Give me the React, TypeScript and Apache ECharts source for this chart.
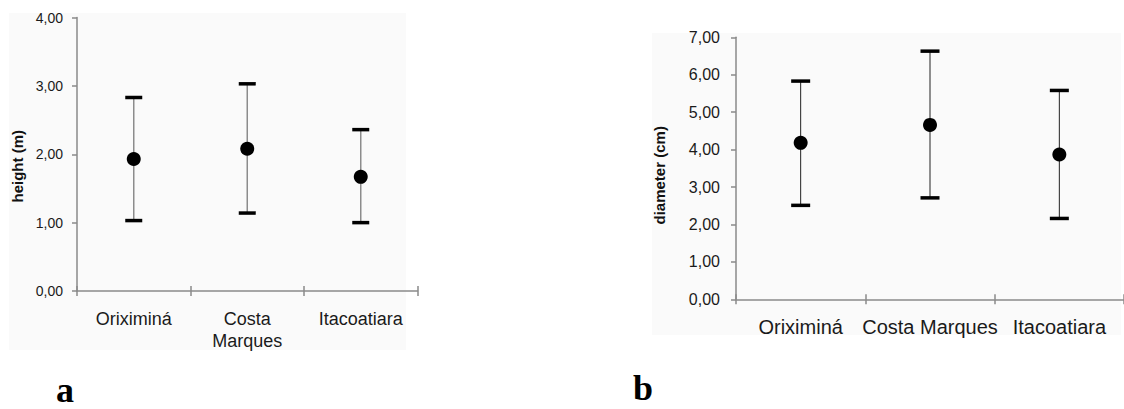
import React, { useEffect, useRef } from "react";
import * as echarts from "echarts";

const categories = ["Oriximiná", "Costa Marques", "Itacoatiara"];

// Panel a: height (m)
const heightMean = [1.93, 2.08, 1.67];
const heightLow = [1.03, 1.14, 1.0];
const heightHigh = [2.83, 3.03, 2.36];
const heightTicks = { min: 0, max: 4, interval: 1 };

// Panel b: diameter (cm)
const diamMean = [4.18, 4.66, 3.87];
const diamLow = [2.51, 2.71, 2.16];
const diamHigh = [5.83, 6.63, 5.58];
const diamTicks = { min: 0, max: 7, interval: 1 };

const fmt = (v: number) => v.toFixed(2).replace(".", ",");

function errorSeries(
  xAxisIndex: number,
  yAxisIndex: number,
  low: number[],
  high: number[],
  stemColor: string,
  stemWidth: number,
  capWidth: number
) {
  return {
    type: "custom",
    xAxisIndex,
    yAxisIndex,
    z: 2,
    data: low.map((l, i) => [i, l, high[i]]),
    renderItem: (params: any, api: any) => {
      const x = api.value(0);
      const pLow = api.coord([x, api.value(1)]);
      const pHigh = api.coord([x, api.value(2)]);
      const hw = capWidth / 2;
      return {
        type: "group",
        children: [
          {
            type: "line",
            shape: { x1: pLow[0], y1: pLow[1], x2: pHigh[0], y2: pHigh[1] },
            style: { stroke: stemColor, lineWidth: stemWidth },
          },
          {
            type: "line",
            shape: { x1: pLow[0] - hw, y1: pLow[1], x2: pLow[0] + hw, y2: pLow[1] },
            style: { stroke: "#000", lineWidth: 3.5 },
          },
          {
            type: "line",
            shape: { x1: pHigh[0] - hw, y1: pHigh[1], x2: pHigh[0] + hw, y2: pHigh[1] },
            style: { stroke: "#000", lineWidth: 3.5 },
          },
        ],
      };
    },
  };
}

const axisGray = "#8a8a8a";
const sans = "Liberation Sans, Arial, sans-serif";

export default function App() {
  const ref = useRef<HTMLDivElement>(null);
  useEffect(() => {
    if (!ref.current) return;
    const chart = echarts.init(ref.current, undefined, { renderer: "svg" });
    const catAxis = (gridIndex: number, fontSize: number, twoLine: boolean) => ({
      type: "category",
      gridIndex,
      data: categories,
      boundaryGap: true,
      axisLine: { lineStyle: { color: axisGray, width: 1.5 } },
      axisTick: { show: true, length: 5, lineStyle: { color: axisGray, width: 1.5 } },
      axisLabel: {
        interval: 0,
        color: "#1a1a1a",
        fontFamily: sans,
        fontSize,
        lineHeight: 22,
        margin: 17,
        formatter: (v: string) => (twoLine ? v.replace(" ", "\n") : v),
      },
    });
    const innerTickAxis = (gridIndex: number) => ({
      type: "category",
      gridIndex,
      position: "bottom",
      data: categories,
      boundaryGap: true,
      axisLine: { show: false },
      axisTick: { show: true, inside: true, length: 5, lineStyle: { color: axisGray, width: 1.5 } },
      axisLabel: { show: false },
    });
    const valAxis = (
      gridIndex: number,
      t: { min: number; max: number; interval: number },
      name: string,
      nameGap: number,
      labelSize: number,
      margin: number,
      padding: number[]
    ) => ({
      type: "value",
      gridIndex,
      min: t.min,
      max: t.max,
      interval: t.interval,
      name,
      nameLocation: "middle",
      nameGap,
      nameTextStyle: {
        fontFamily: sans,
        fontWeight: "bold",
        fontSize: 15,
        color: "#111",
        padding,
      },
      splitLine: { show: false },
      axisLine: { show: true, lineStyle: { color: axisGray, width: 1.5 } },
      axisTick: { show: true, length: 5, lineStyle: { color: axisGray, width: 1.5 } },
      axisLabel: {
        color: "#1a1a1a",
        fontFamily: sans,
        fontSize: labelSize,
        margin,
        formatter: (v: number) => fmt(v),
      },
    });

    chart.setOption({
      animation: false,
      backgroundColor: "#ffffff",
      graphic: [
        { type: "rect", z: -10, shape: { x: 9, y: 13, width: 397, height: 337 }, style: { fill: "#fafafa" } },
        { type: "rect", z: -10, shape: { x: 652, y: 33, width: 469, height: 302 }, style: { fill: "#fafafa" } },
        {
          type: "text",
          x: 56,
          y: 372,
          style: {
            text: "a",
            font: "bold 36px 'Liberation Serif', 'Times New Roman', serif",
            fill: "#000",
            verticalAlign: "top",
            lineHeight: 36,
          },
        },
        {
          type: "text",
          x: 633,
          y: 370,
          style: {
            text: "b",
            font: "bold 36px 'Liberation Serif', 'Times New Roman', serif",
            fill: "#000",
            verticalAlign: "top",
            lineHeight: 36,
          },
        },
      ],
      grid: [
        { left: 77, top: 17.5, width: 340.5, height: 273.5 },
        { left: 736, top: 37.3, width: 399, height: 262 },
      ],
      xAxis: [catAxis(0, 18, true), catAxis(1, 20, false), innerTickAxis(0), innerTickAxis(1)],
      yAxis: [
        valAxis(0, heightTicks, "height (m)", 52, 14, 14, [0, 24, 0, 0]),
        valAxis(1, diamTicks, "diameter (cm)", 69, 16, 16, [0, 14, 0, 0]),
      ],
      series: [
        errorSeries(0, 0, heightLow, heightHigh, "#8c8c8c", 1.5, 17),
        errorSeries(1, 1, diamLow, diamHigh, "#222", 1, 19),
        {
          type: "scatter",
          xAxisIndex: 0,
          yAxisIndex: 0,
          z: 3,
          symbol: "circle",
          symbolSize: 14,
          itemStyle: { color: "#000", opacity: 1 },
          data: heightMean,
        },
        {
          type: "scatter",
          xAxisIndex: 1,
          yAxisIndex: 1,
          z: 3,
          symbol: "circle",
          symbolSize: 14,
          itemStyle: { color: "#000", opacity: 1 },
          data: diamMean,
        },
      ],
    });
    return () => chart.dispose();
  }, []);
  return (
    <div
      ref={ref}
      style={{ position: "absolute", left: 0, top: 0, width: 1124, height: 409 }}
    />
  );
}
